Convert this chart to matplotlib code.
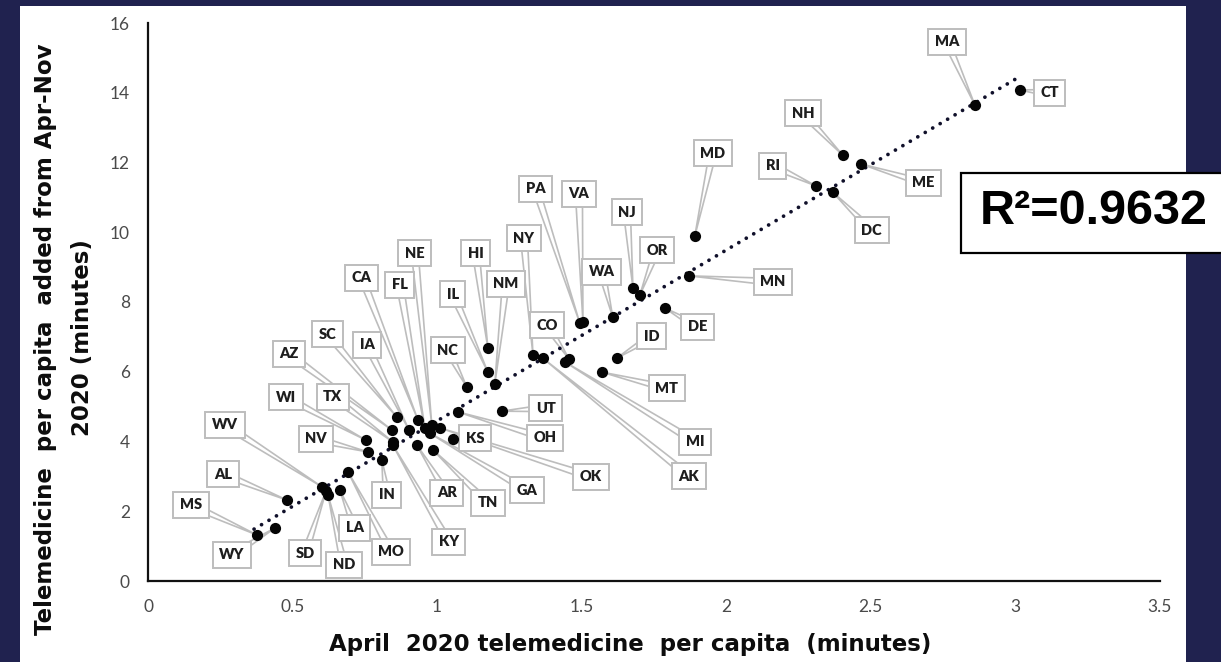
import numpy as np
import matplotlib
matplotlib.use('Agg')
import matplotlib.pyplot as plt
from matplotlib.patches import Rectangle

# ---------------- data ----------------
states = ['MA', 'CT', 'NH', 'ME', 'RI', 'DC', 'MD', 'MN', 'DE', 'NJ', 'OR', 'WA', 'PA', 'VA',
          'ID', 'MT', 'HI', 'IL', 'NM', 'NC', 'NY', 'AK', 'MI', 'CO', 'UT', 'OH', 'KS', 'OK',
          'GA', 'TN', 'AR', 'KY', 'IN', 'WI', 'NV', 'TX', 'AZ', 'SC', 'IA', 'CA', 'FL', 'NE',
          'MS', 'WY', 'AL', 'WV', 'SD', 'ND', 'LA', 'MO']
april_minutes = [2.861, 3.016, 2.404, 2.466, 2.311, 2.369, 1.892, 1.871, 1.788, 1.678, 1.702, 1.608, 1.494, 1.505,
                 1.622, 1.570, 1.176, 1.176, 1.200, 1.103, 1.332, 1.366, 1.443, 1.457, 1.224, 1.072, 1.055, 1.010,
                 0.975, 0.986, 0.930, 0.847, 0.809, 0.754, 0.761, 0.847, 0.844, 0.861, 0.903, 0.934, 0.958, 0.982,
                 0.377, 0.439, 0.481, 0.602, 0.616, 0.623, 0.664, 0.692]
added_minutes = [13.65, 14.08, 12.21, 11.96, 11.33, 11.15, 9.89, 8.75, 7.83, 8.40, 8.20, 7.57, 7.40, 7.43,
                 6.39, 5.99, 6.68, 5.99, 5.65, 5.56, 6.48, 6.39, 6.28, 6.36, 4.87, 4.85, 4.07, 4.39,
                 4.24, 3.76, 3.90, 3.90, 3.47, 4.04, 3.70, 3.99, 4.33, 4.70, 4.33, 4.62, 4.39, 4.47,
                 1.32, 1.52, 2.32, 2.70, 2.58, 2.47, 2.61, 3.13]
x_ticks = [0, 0.5, 1, 1.5, 2, 2.5, 3, 3.5]
x_tick_labels = ['0', '0.5', '1', '1.5', '2', '2.5', '3', '3.5']
y_ticks = [0, 2, 4, 6, 8, 10, 12, 14, 16]
r2_text = 'R\u00b2=0.9632'

# ---------------- layout (label offsets in pixels: right, up) ----------------
label_offsets = {
    'MA': (-28, 63), 'CT': (30, -3), 'NH': (-40, 42), 'ME': (63, -19), 'RI': (-43, 20),
    'DC': (39, -38), 'MD': (18, 83), 'MN': (84, -6), 'DE': (33, -19), 'NJ': (-6, 76),
    'OR': (17, 45), 'WA': (-11, 45), 'PA': (-44, 134), 'VA': (-4, 128), 'ID': (35, 22),
    'MT': (65, -16), 'HI': (-12, 95), 'IL': (-35, 78), 'NM': (11, 100), 'NC': (-19, 37),
    'NY': (-9, 117), 'AK': (146, -118), 'MI': (130, -80), 'CO': (-22, 34), 'UT': (44, 3),
    'OH': (87, -26), 'KS': (22, 1), 'OK': (151, -49), 'GA': (97, -57), 'TN': (55, -53),
    'AR': (30, -48), 'KY': (56, -97), 'IN': (5, -35), 'WI': (-80, 43), 'NV': (-52, 13),
    'TX': (-60, 45), 'AZ': (-103, 76), 'SC': (-69, 83), 'IA': (-42, 85), 'CA': (-56, 142),
    'FL': (-25, 143), 'NE': (-17, 172), 'MS': (-66, 30), 'WY': (-43, -27), 'AL': (-64, 26),
    'WV': (-97, 62), 'SD': (-21, -62), 'ND': (16, -70), 'LA': (15, -38), 'MO': (43, -80),
}

W, H = 1221, 662
NAVY = '#20224f'
GRAY_EDGE = '#bdbdbd'

fig = plt.figure(figsize=(W / 100, H / 100), dpi=100)
fig.patch.set_facecolor(NAVY)
fig.add_artist(Rectangle((20 / W, 0), (1186 - 20) / W, (H - 6) / H, transform=fig.transFigure,
                         facecolor='white', edgecolor='none', zorder=-1))

ax = fig.add_axes([148 / W, (H - 581) / H, 1011.5 / W, 558 / H])
ax.set_facecolor('none')
ax.set_xlim(0, 3.5)
ax.set_ylim(0, 16)
for side in ['top', 'right']:
    ax.spines[side].set_visible(False)
for side in ['left', 'bottom']:
    ax.spines[side].set_linewidth(1.6)
    ax.spines[side].set_color('#111111')
ax.set_xticks(x_ticks)
ax.set_xticklabels(x_tick_labels)
ax.set_yticks(y_ticks)
ax.tick_params(length=0, pad=13, labelsize=12.5, labelcolor='#4a4a4a')
for lab in ax.get_xticklabels() + ax.get_yticklabels():
    lab.set_family('Lato')

x = np.array(april_minutes)
y = np.array(added_minutes)

# trend line
slope, intercept = np.polyfit(x, y, 1)
tx = np.array([x.min() - 0.01, x.max()])
ax.plot(tx, slope * tx + intercept, color='#10102a', lw=2.7,
        linestyle=(0, (0.01, 2.3)), dash_capstyle='round', zorder=3)

# callouts
inv = ax.transData.inverted()
for s, xi, yi in zip(states, april_minutes, added_minutes):
    dx, dy = label_offsets[s]
    px, py = ax.transData.transform((xi, yi))
    cx, cy = px + dx, py + dy
    L = np.hypot(dx, dy)
    nx, ny = -dy / L, dx / L
    hw = 3.5
    pts = inv.transform([(cx + nx * hw, cy + ny * hw), (px, py), (cx - nx * hw, cy - ny * hw)])
    ax.plot(pts[:, 0], pts[:, 1], color=GRAY_EDGE, lw=1.2, zorder=2, clip_on=False)
    ax.annotate(s, xy=(xi, yi), xytext=(dx, dy), textcoords='offset pixels',
                ha='center', va='center', fontsize=10.5, fontweight='heavy', family='Lato',
                color='#1e1e1e', zorder=4, annotation_clip=False,
                bbox=dict(boxstyle='square,pad=0.45', fc='white', ec=GRAY_EDGE, lw=1.4))

ax.scatter(x, y, s=65, color='#050505', zorder=5, linewidths=0)

# axis titles
TITLE_FONT = dict(fontsize=16.5, fontweight='bold', family='DejaVu Sans', color='#0d0d0d')
fig.text(630 / W, 1 - 645 / H, 'April  2020 telemedicine  per capita  (minutes)',
         ha='center', va='center', **TITLE_FONT)
fig.text(46 / W, 1 - 339 / H, 'Telemedicine  per capita  added from Apr-Nov',
         ha='center', va='center', rotation=90, **TITLE_FONT)
fig.text(83 / W, 1 - 338 / H, '2020 (minutes)',
         ha='center', va='center', rotation=90, **TITLE_FONT)

# R^2 box
fig.add_artist(Rectangle((961 / W, 1 - 253 / H), (W + 10 - 961) / W, 80 / H, transform=fig.transFigure,
                         facecolor='white', edgecolor='black', lw=1.6, zorder=6))
fig.text(1094 / W, 1 - 212 / H, r2_text, ha='center', va='center', fontsize=35, fontweight='bold',
         family='Liberation Sans', color='black', zorder=7)

fig.savefig('out.png', dpi=100, facecolor=NAVY)
